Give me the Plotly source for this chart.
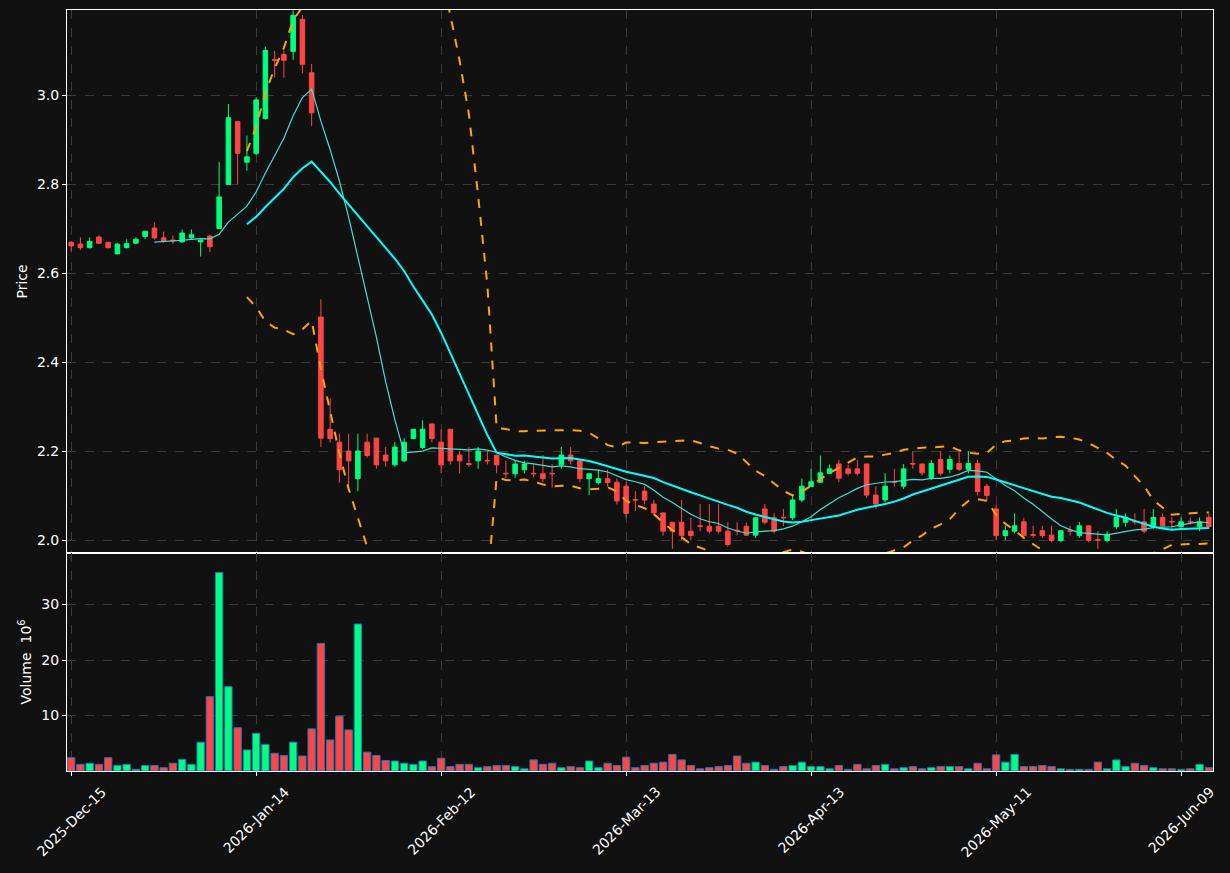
import pandas as pd
import plotly.graph_objects as go
from plotly.subplots import make_subplots

opens = [2.669,2.665,2.657,2.681,2.669,2.643,2.657,2.667,2.682,2.701,
         2.679,2.674,2.670,2.679,2.670,2.683,2.700,2.799,2.940,2.849,
         2.869,2.947,3.080,3.091,3.098,3.170,3.050,2.501,2.249,2.220,
         2.200,2.138,2.220,2.229,2.191,2.169,2.178,2.228,2.208,2.261,
         2.220,2.249,2.191,2.172,2.178,2.179,2.191,2.150,2.149,2.158,
         2.150,2.149,2.150,2.169,2.191,2.178,2.138,2.129,2.138,2.130,
         2.121,2.091,2.110,2.081,2.061,2.040,2.040,2.020,2.032,2.031,
         2.031,2.020,2.022,2.031,2.011,2.070,2.050,2.051,2.050,2.090,
         2.120,2.130,2.150,2.171,2.160,2.160,2.171,2.101,2.090,2.131,
         2.121,2.172,2.171,2.141,2.181,2.159,2.172,2.159,2.172,2.121,
         2.070,2.010,2.020,2.041,2.012,2.021,2.011,1.999,2.021,2.010,
         2.032,2.001,1.999,2.030,2.040,2.042,2.041,2.030,2.051,2.042,
         2.030,2.042,2.030,2.051]
closes = [2.661,2.657,2.671,2.667,2.657,2.665,2.666,2.676,2.694,2.679,
          2.671,2.672,2.690,2.686,2.674,2.659,2.771,2.949,2.869,2.861,
          2.989,3.100,3.078,3.078,3.179,3.069,2.960,2.229,2.228,2.158,
          2.178,2.200,2.190,2.169,2.178,2.209,2.220,2.249,2.249,2.228,
          2.169,2.178,2.178,2.170,2.200,2.178,2.169,2.149,2.171,2.171,
          2.149,2.138,2.149,2.191,2.178,2.138,2.149,2.138,2.129,2.088,
          2.060,2.090,2.090,2.061,2.020,2.020,2.010,2.010,2.031,2.020,
          2.020,1.990,2.021,2.011,2.050,2.040,2.020,2.050,2.090,2.121,
          2.131,2.151,2.160,2.139,2.150,2.150,2.101,2.081,2.121,2.130,
          2.160,2.171,2.151,2.172,2.150,2.181,2.159,2.172,2.109,2.100,
          2.010,2.021,2.032,2.010,2.011,2.010,1.999,2.021,2.020,2.032,
          1.999,2.000,2.013,2.051,2.051,2.041,2.020,2.051,2.032,2.041,
          2.041,2.041,2.041,2.030]
highs = [2.672,2.680,2.680,2.685,2.670,2.668,2.676,2.680,2.694,2.714,
         2.693,2.684,2.698,2.698,2.676,2.686,2.849,2.980,2.942,2.909,
         2.995,3.109,3.099,3.099,3.190,3.180,3.070,2.541,2.318,2.239,
         2.239,2.239,2.239,2.229,2.209,2.220,2.229,2.249,2.269,2.261,
         2.249,2.249,2.200,2.209,2.209,2.200,2.191,2.178,2.178,2.178,
         2.171,2.191,2.171,2.209,2.209,2.178,2.149,2.158,2.158,2.138,
         2.130,2.110,2.121,2.090,2.061,2.040,2.090,2.050,2.081,2.081,
         2.081,2.040,2.040,2.040,2.050,2.081,2.060,2.070,2.101,2.138,
         2.160,2.190,2.170,2.180,2.170,2.180,2.171,2.121,2.150,2.160,
         2.171,2.200,2.171,2.180,2.200,2.190,2.200,2.200,2.181,2.126,
         2.079,2.033,2.060,2.050,2.032,2.032,2.032,2.021,2.032,2.041,
         2.032,2.020,2.020,2.070,2.060,2.060,2.070,2.070,2.060,2.051,
         2.051,2.051,2.051,2.060]
lows = [2.649,2.652,2.655,2.665,2.655,2.643,2.655,2.665,2.676,2.675,
        2.668,2.665,2.668,2.675,2.637,2.647,2.699,2.799,2.799,2.830,
        2.865,2.945,3.039,3.039,3.079,3.049,2.930,2.209,2.219,2.129,
        2.110,2.110,2.185,2.160,2.165,2.165,2.175,2.228,2.205,2.220,
        2.150,2.170,2.150,2.165,2.160,2.170,2.150,2.140,2.140,2.150,
        2.140,2.130,2.118,2.160,2.170,2.130,2.101,2.125,2.120,2.080,
        2.049,2.065,2.080,2.055,2.010,1.980,2.000,2.000,2.020,2.015,
        2.015,1.985,2.011,2.011,2.005,2.035,2.015,2.031,2.045,2.085,
        2.125,2.140,2.148,2.130,2.145,2.145,2.095,2.070,2.085,2.120,
        2.115,2.160,2.145,2.135,2.145,2.150,2.155,2.150,2.100,2.090,
        2.000,2.000,2.015,2.005,2.005,2.005,1.995,1.995,2.010,2.005,
        1.995,1.980,1.995,2.025,2.030,2.035,2.015,2.025,2.030,2.025,
        2.025,2.035,2.020,2.025]
volumes = [2.4,1.2,1.4,1.2,2.4,1.0,1.2,0.3,1.0,1.0,
           0.6,1.4,2.1,1.2,5.2,13.4,35.8,15.2,7.8,3.8,
           6.8,4.8,3.2,2.8,5.2,2.7,7.6,23.0,5.6,9.9,
           7.4,26.5,3.4,2.8,1.9,1.8,1.4,1.2,1.8,0.8,
           2.3,0.8,1.2,1.2,0.6,0.8,1.0,1.0,0.8,0.4,
           2.0,1.2,1.4,0.6,0.8,0.6,1.8,0.6,1.4,1.0,
           2.5,0.6,1.0,1.4,1.6,3.0,2.0,1.0,0.4,0.6,
           0.8,1.0,2.7,1.4,1.6,1.0,0.3,0.8,1.0,1.6,
           0.8,0.8,0.4,1.0,0.3,1.2,0.4,1.0,1.2,0.4,
           0.6,0.8,0.4,0.6,0.8,0.8,0.8,0.4,1.4,0.4,
           2.9,1.6,3.0,0.8,0.8,1.0,0.8,0.4,0.3,0.3,
           0.3,1.6,0.4,2.0,0.8,1.4,1.0,0.6,0.4,0.4,
           0.3,0.4,1.2,0.6]
tick_pos = [0, 20, 40, 60, 80, 100, 120]
tick_labels = ["2025-Dec-15", "2026-Jan-14", "2026-Feb-12", "2026-Mar-13",
               "2026-Apr-13", "2026-May-11", "2026-Jun-09"]

UP, DOWN = "#00ff7f", "#ff4545"
x = list(range(len(closes)))
c = pd.Series(closes)
ma10 = c.rolling(10).mean()
ma20 = c.rolling(20).mean()
sd = c.rolling(20).std(ddof=0)
bb_up, bb_lo = ma20 + 2 * sd, ma20 - 2 * sd
vcol = [UP if cl >= op else DOWN for op, cl in zip(opens, closes)]

fig = make_subplots(rows=2, cols=1, shared_xaxes=True, vertical_spacing=0,
                    row_heights=[0.7135, 0.2865])
fig.add_trace(go.Candlestick(x=x, open=opens, high=highs, low=lows, close=closes,
    increasing=dict(line=dict(color=UP, width=1), fillcolor=UP),
    decreasing=dict(line=dict(color=DOWN, width=1), fillcolor=DOWN),
    whiskerwidth=0, showlegend=False), row=1, col=1)
fig.add_trace(go.Scatter(x=x, y=ma10, mode="lines", line=dict(color="#40e0d0", width=1.2),
                         showlegend=False), row=1, col=1)
fig.add_trace(go.Scatter(x=x, y=ma20, mode="lines", line=dict(color="#00ffff", width=2),
                         showlegend=False), row=1, col=1)
for b in (bb_up, bb_lo):
    fig.add_trace(go.Scatter(x=x, y=b, mode="lines",
                             line=dict(color="#ffa500", width=2, dash="dash"),
                             showlegend=False), row=1, col=1)
fig.add_trace(go.Bar(x=x, y=volumes, marker=dict(color=vcol, line=dict(color="#1f77b4", width=1)),
                     width=0.8, showlegend=False), row=2, col=1)

ax = dict(showline=True, linecolor="white", linewidth=1, mirror=True,
          ticks="outside", tickcolor="white", ticklen=4, automargin=False,
          gridcolor="#3a3a3a", griddash="dash", gridwidth=1, zeroline=False,
          tickfont=dict(color="white", size=14))
fig.update_xaxes(**ax, range=[-0.45, 123.45], tickvals=tick_pos,
                 ticktext=[""] * len(tick_pos), rangeslider_visible=False)
fig.update_yaxes(**ax)
fig.update_yaxes(range=[1.971, 3.191], tickvals=[2.0, 2.2, 2.4, 2.6, 2.8, 3.0],
                 ticktext=["2.0", "2.2", "2.4", "2.6", "2.8", "3.0"],
                 title=dict(text="Price", font=dict(color="white", size=14), standoff=6),
                 row=1, col=1)
fig.update_yaxes(range=[0, 39.3], tickvals=[10, 20, 30],
                 title=dict(text="Volume  10<sup>6</sup>", font=dict(color="white", size=14), standoff=6),
                 row=2, col=1)
for p, t in zip(tick_pos, tick_labels):
    fig.add_annotation(x=p, xref="x2", y=0, yref="y2 domain", text=t, textangle=-45,
                       showarrow=False, xanchor="center", yanchor="top", yshift=-10,
                       font=dict(color="white", size=14))
fig.update_layout(width=1230, height=873, paper_bgcolor="#111111", plot_bgcolor="#111111",
                  margin=dict(l=67, r=17, t=10, b=102), font=dict(family="DejaVu Sans", color="white"),
                  bargap=0.1)
fig.write_html("out.html", config={"displayModeBar": False})
with open("out.html", encoding="utf-8") as f:
    html = f.read()
html = html.replace("<head>", "<head><style>html,body{margin:0;padding:0;background:#111111;overflow:hidden}</style>", 1)
with open("out.html", "w", encoding="utf-8") as f:
    f.write(html)
